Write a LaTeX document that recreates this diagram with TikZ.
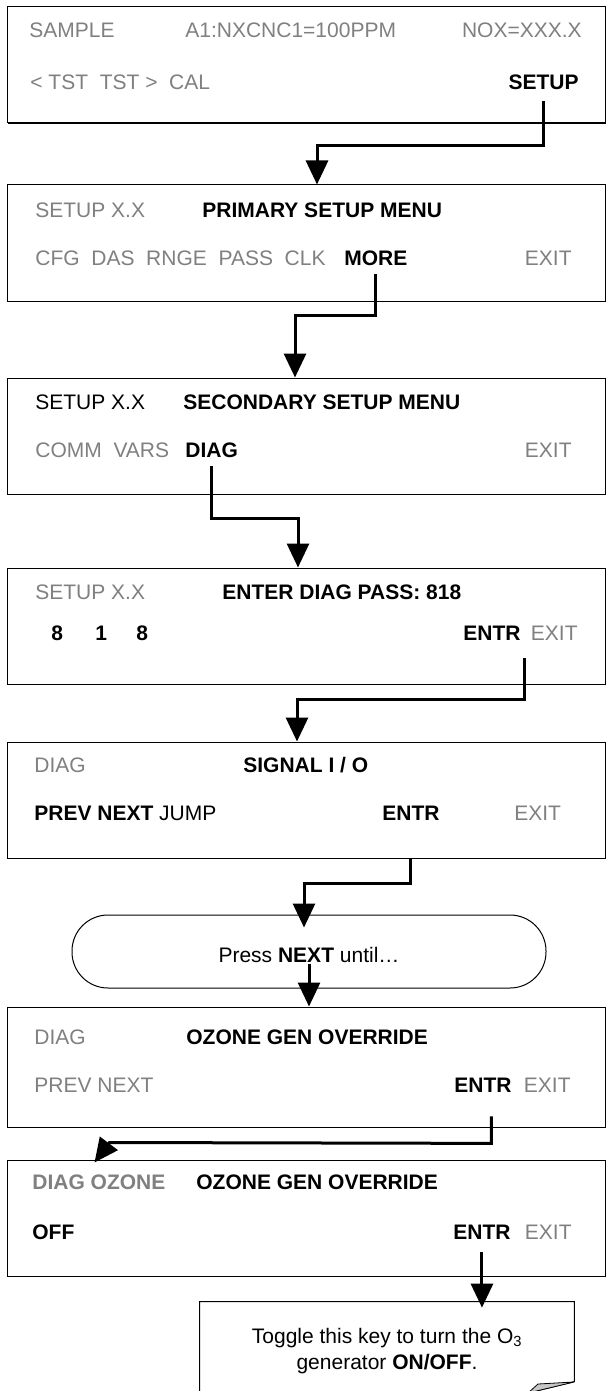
\documentclass[tikz,border=0pt]{standalone}
\usepackage{fontspec}
\setmainfont{Liberation Sans}
\usetikzlibrary{arrows.meta,positioning,calc,shadows}
\definecolor{keygray}{RGB}{128,128,128}
\tikzset{every picture/.style={line width=0.75pt}}
\tikzset{
    scr/.style={draw, fill=white, line width=1pt, minimum width=598pt, minimum height=116pt, inner sep=0pt,
        drop shadow={shadow xshift=0.8pt, shadow yshift=-1.2pt, opacity=1, fill=black}},
    pill/.style={draw, fill=white, line width=1pt, rounded corners=36pt, minimum width=474pt, minimum height=73pt},
    lbl/.style={font=\fontsize{21}{26}\selectfont, inner sep=1pt, anchor=base west},
    lblr/.style={lbl, anchor=base east},
    hot/.style={font=\fontsize{21}{26}\selectfont\bfseries},
    faded/.style={text=keygray},
    flow/.style={-{Triangle[length=24pt,width=22pt]}, line width=3pt}
}

\begin{document}
\begin{tikzpicture}[x=1pt, y=-1pt]

    \useasboundingbox (0,0) rectangle (607,1391);

    % --- screens ---
    \node[scr] (b1) at (306,65) {};
    \node[scr] (b2) at (306,243) {};
    \node[scr] (b3) at (306,436) {};
    \node[scr] (b4) at (306,626) {};
    \node[scr] (b5) at (306,800) {};
    \node[scr, minimum height=120pt] (b6) at (306,1067) {};
    \node[scr] (b7) at (306,1218) {};

    % SAMPLE
    \node[lbl, faded] (b1a) at (28,38) {SAMPLE};
    \node[lbl, faded] (b1b) at (184,38) {A1:NXCNC1=100PPM};
    \node[lblr, faded] (b1c) at (583,38) {NOX=XXX.X};
    \node[lbl, faded] (b1d) at (29,90) {< TST\ \ TST >\ \ CAL};
    \node[lblr, hot] (setup) at (580,90) {SETUP};

    % primary setup
    \node[lbl, faded] (b2a) at (34,217.5) {SETUP X.X};
    \node[lbl, hot] (b2b) at (201,217.5) {PRIMARY SETUP MENU};
    \node[lbl, faded] (b2c) at (34,265.5) {CFG\ \ DAS\ \ RNGE\ \ PASS\ \ CLK};
    \node[lbl, hot] (more) at (343,265.5) {MORE};
    \node[lblr, faded] (b2e) at (573,265.5) {EXIT};

    % secondary setup
    \node[lbl] (b3a) at (34,409.5) {SETUP X.X};
    \node[lbl, hot] (b3b) at (182,409.5) {SECONDARY SETUP MENU};
    \node[lbl, faded] (b3c) at (34,457.5) {COMM\ \ VARS};
    \node[lbl, hot] (diag) at (184,457.5) {DIAG};
    \node[lblr, faded] (b3e) at (573,457.5) {EXIT};

    % password
    \node[lbl, faded] (b4a) at (34,599.5) {SETUP X.X};
    \node[lbl, hot] (b4b) at (221,599.5) {ENTER DIAG PASS: 818};
    \foreach \d/\x [count=\i] in {8/50, 1/94, 8/135} {
        \node[lbl, hot] (dig\i) at (\x,640.5) {\d};
    }
    \node[lbl, hot] (entr4) at (462,640.5) {ENTR};
    \node[lblr, faded] (b4e) at (579,640.5) {EXIT};

    % signal i/o
    \node[lbl, faded] (b5a) at (33,772.5) {DIAG};
    \node[lbl, hot] (b5b) at (242,772.5) {SIGNAL I / O};
    \node[lbl] (b5c) at (33,820.5) {\textbf{PREV NEXT} JUMP};
    \node[lbl, hot] (entr5) at (381,820.5) {ENTR};
    \node[lbl, faded] (b5e) at (513,820.5) {EXIT};

    % press next
    \node[pill] (press) at (309,951.5) {};
    \node[lbl, anchor=base] (presstxt) at (309,962) {Press \textbf{NEXT} until…};

    % ozone override
    \node[lbl, faded] (b6a) at (33,1044.5) {DIAG};
    \node[lbl, hot] (b6b) at (185,1044.5) {OZONE GEN OVERRIDE};
    \node[lbl, faded] (b6c) at (33,1092.5) {PREV NEXT};
    \node[lbl, hot] (entr6) at (453,1092.5) {ENTR};
    \node[lblr, faded] (b6e) at (572,1092.5) {EXIT};

    \node[lbl, hot, faded] (b7a) at (31,1189.5) {DIAG OZONE};
    \node[lbl, hot] (b7b) at (195,1189.5) {OZONE GEN OVERRIDE};
    \node[lbl, hot] (b7c) at (31,1239.5) {OFF};
    \node[lbl, hot] (entr7) at (452,1239.5) {ENTR};
    \node[lblr, faded] (b7e) at (573,1239.5) {EXIT};

    % note with curled corner
    \node[minimum width=374pt, minimum height=89pt, inner sep=0pt] (note) at (387,1346.5) {};
    \draw[line width=1pt] (note.south west) -- (note.north west) -- (note.north east) -- ++(0,80) -- (528,1393);
    \filldraw[fill=gray!45, line width=0.8pt] (538,1384) -- (574,1382) -- (528,1393) -- cycle;
    \node[lbl, anchor=north, align=center] (notetxt) at (387,1327)
        {Toggle this key to turn the O\textsubscript{3}\\generator \textbf{ON/OFF}.};

    % --- connectors ---
    \draw[flow] ([yshift=-9pt]setup.south) -- ++(0,45) -| ([xshift=11pt]b2.north);
    \draw[flow] ([yshift=-6.5pt]more.south) -- ++(0,42) -| ([xshift=-11pt]b3.north);
    \draw[flow] ([yshift=-6.5pt]diag.south) -- ++(0,53) -| ([xshift=-8pt]b4.north);
    \draw[flow] ([shift={(3pt,-16.5pt)}]entr4.south east) -- ++(0,41) -| ([xshift=-9pt]b5.north);
    \draw[flow] (entr5.south |- b5.south) -- ++(0,25) -| ([xshift=-5pt,yshift=-13pt]press.north);
    \draw[flow] (presstxt.south) -- ([xshift=3pt]b6.north);
    \draw[flow] ([shift={(8.5pt,-22.5pt)}]entr6.south) -- ++(0,27)
        -- ([xshift=103pt,yshift=17pt]b7.north west) -- ([xshift=88pt,yshift=-3pt]b7.north west);
    \draw[flow] ([yshift=-11.5pt]entr7.south) -- ($(entr7.south |- note.north)+(0,6)$);

\end{tikzpicture}
\end{document}
